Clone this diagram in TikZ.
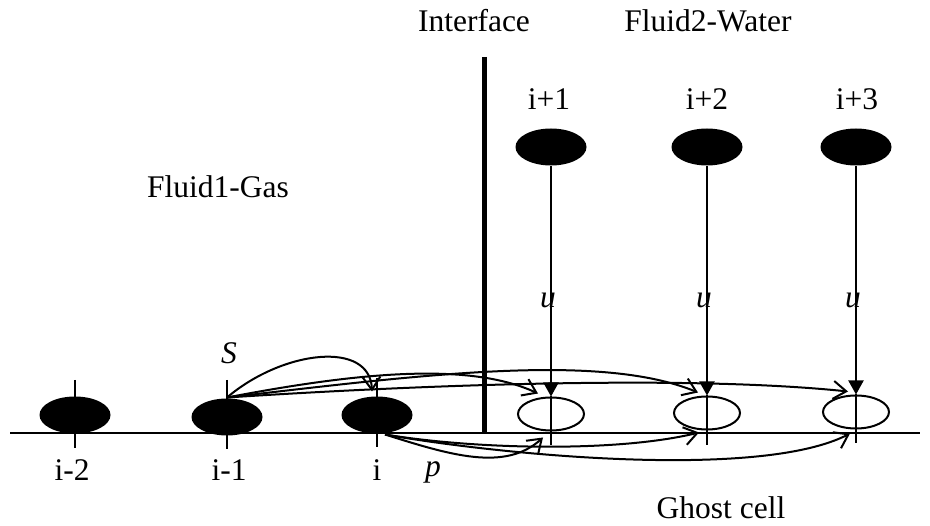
\documentclass[tikz,border=0pt]{standalone}
\usepackage{fontspec}
\setmainfont{Liberation Serif}
\usetikzlibrary{shapes.geometric,arrows.meta}
\begin{document}
\begin{tikzpicture}[x=1pt,y=-1pt,
  line width=2pt,
  font=\fontsize{31.5}{36}\selectfont,
  cell/.style={ellipse, fill=black, minimum width=71pt, minimum height=37pt, inner sep=0pt},
  ghost/.style={ellipse, draw, line width=2pt, minimum width=66pt, minimum height=33pt, inner sep=0pt},
  lbl/.style={anchor=base, inner sep=0pt},
  barb/.style={-{Straight Barb[length=13pt,width=18pt]}},
  tri/.style={-{Triangle[length=14pt,width=15pt]}},
]
\useasboundingbox (0,0) rectangle (930,526);

% baseline and interface
\coordinate (L) at (10,433);
\coordinate (R) at (920,433);
\coordinate (IT) at (484,57);
\coordinate (IB) at (484,433);
\draw (L) -- (R);
\draw[line width=5pt] (IT) -- (IB);

% cells
\node[cell] (c1) at (75,415) {};
\node[cell] (c2) at (227,417) {};
\node[cell] (c3) at (377,415) {};
\node[ghost] (g1) at (551,414) {};
\node[ghost] (g2) at (707,413) {};
\node[ghost] (g3) at (856,412) {};
\node[cell] (t1) at (551,147) {};
\node[cell] (t2) at (707,147) {};
\node[cell] (t3) at (856,147) {};

% ticks
\draw (c1.center) ++(0,-35) -- ++(0,68);
\draw (c2.center) ++(0,-37) -- ++(0,69);
\draw (c3.center) ++(0,-37) -- ++(0,69);

% u arrows
\draw[tri] (t1.south) -- (g1.north);
\draw[tri] (t2.south) -- (g2.north);
\draw[tri] (t3.south) -- (g3.north);
\draw (g1.north) -- ++(0,49);
\draw (g2.north) -- ++(0,50);
\draw (g3.north) -- ++(0,49);

% S arrows
\draw[barb] (c2.north) .. controls (283,350) and (370,340) .. ([shift={(-5pt,4pt)}]c3.north);
\draw[barb] (c2.north) .. controls (360,372) and (470,362) .. ([shift={(-13pt,3pt)}]g1.north);
\draw[barb] (c2.north) .. controls (420,375) and (600,352) .. ([shift={(-9pt,3pt)}]g2.north);
\draw[barb] (c2.north) .. controls (450,383) and (700,376) .. ([shift={(-8pt,3pt)}]g3.north);

% p arrows
\coordinate (P) at ([xshift=8pt]c3.south);
\draw[barb] (P) .. controls (450,455) and (505,472) .. ([shift={(-8pt,-6pt)}]g1.south);
\draw[barb] (P) .. controls (480,450) and (620,452) .. ([shift={(-8pt,-2pt)}]g2.south);
\draw[barb] (P) .. controls (500,455) and (760,480) .. ([shift={(-6pt,-4pt)}]g3.south);

% labels
\node[lbl] (tInterface) at (474,32) {Interface};
\node[lbl] (tWater) at (708,32) {Fluid2-Water};
\node[lbl] (tGas) at (218,198) {Fluid1-Gas};
\node[lbl] (n1) at (549,110) {i+1};
\node[lbl] (n2) at (707,110) {i+2};
\node[lbl] (n3) at (857,110) {i+3};
\node[lbl] (u1) at (548,308) {\textit{u}};
\node[lbl] (u2) at (704,308) {\textit{u}};
\node[lbl] (u3) at (853,308) {\textit{u}};
\node[lbl] (tS) at (229,364) {\textit{S}};
\node[lbl] (m2) at (72,481) {i-2};
\node[lbl] (m1) at (229,481) {i-1};
\node[lbl] (m0) at (377,481) {i};
\node[lbl] (tp) at (433,477) {\textit{p}};
\node[lbl] (tGhost) at (721,519) {Ghost cell};
\end{tikzpicture}
\end{document}
